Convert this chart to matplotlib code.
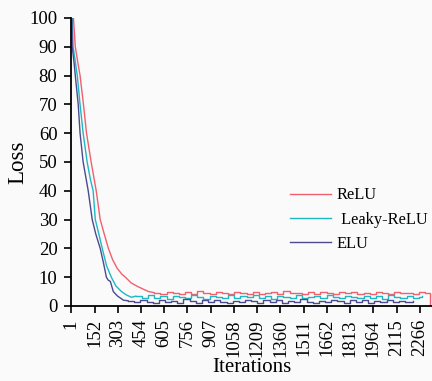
import matplotlib
matplotlib.use("Agg")
import matplotlib.pyplot as plt

plt.rcParams["font.family"] = ["Liberation Serif", "DejaVu Serif"]

# ReLU: fast descent, then noisy plateau
relu_head_x = [1, 15, 27, 42, 58, 80, 100, 130, 163, 189, 215, 242, 270, 300, 330, 352, 390, 430, 470, 503, 540]
relu_head_y = [100, 100, 90, 85, 80, 70, 60, 50, 40, 30, 25, 20, 16, 13, 11, 10, 8, 6.8, 5.8, 5.0, 4.6]
relu_tail_x = list(range(540, 2301, 40)) + [2332, 2345]
relu_tail_y = [4.6, 4.2, 4.9, 4.4, 4.0, 4.7, 4.3, 5.1, 4.5, 4.1, 4.8, 4.4, 4.2, 5.0, 4.6,
               4.3, 4.9, 4.1, 4.5, 4.7, 4.2, 5.2, 4.4, 4.6, 4.0, 4.8, 4.3, 4.9, 4.5, 4.2,
               5.0, 4.4, 4.7, 4.1, 4.6, 4.3, 4.9, 4.5, 4.2, 4.8, 4.4, 4.6, 4.1, 4.7, 4.5,
               0.0, 0.0]

# Leaky-ReLU
leaky_head_x = [1, 7, 13, 40, 58, 78, 104, 125, 143, 157, 180, 202, 230, 261, 290, 327, 360, 392, 420]
leaky_head_y = [100, 100, 90, 80, 70, 60, 50, 44, 40, 30, 25, 20, 14, 10, 7, 5, 3.8, 3.0, 3.4]
leaky_tail_x = list(range(420, 2261, 40)) + [2280]
leaky_tail_y = [3.4, 2.6, 3.8, 2.9, 3.3, 2.4, 3.6, 3.1, 2.7, 3.9, 3.0, 2.5, 3.5, 3.2, 2.8,
                3.7, 2.6, 3.3, 3.0, 3.8, 2.7, 3.4, 2.5, 3.6, 3.1, 2.9, 3.7, 2.6, 3.2, 3.5,
                2.8, 3.9, 3.0, 2.6, 3.4, 3.1, 2.7, 3.6, 2.9, 3.3, 2.5, 3.8, 3.0, 2.7, 3.5,
                2.9, 3.1, 3.6]

# ELU
elu_head_x = [1, 5, 7, 20, 27, 46, 58, 78, 111, 137, 160, 189, 210, 229, 240, 255, 274, 300, 340, 370]
elu_head_y = [100, 100, 90, 84, 80, 70, 60, 50, 40, 30, 25, 20, 15, 10, 9, 8.5, 5, 3.5, 2.0, 1.8]
elu_tail_x = list(range(370, 2201, 40)) + [2221]
elu_tail_y = [1.8, 1.2, 2.2, 1.5, 0.9, 2.0, 1.4, 1.7, 1.0, 2.3, 1.6, 1.1, 1.9, 1.3, 2.1,
              1.5, 0.9, 1.8, 1.2, 2.2, 1.6, 1.0, 1.9, 1.4, 2.0, 1.1, 1.7, 1.3, 2.3, 1.5,
              0.9, 1.8, 1.2, 2.1, 1.6, 1.0, 1.9, 1.4, 2.2, 1.1, 1.7, 1.3, 2.0, 1.5, 1.8,
              1.2, 1.6]

x_ticks = list(range(1, 2267, 151))
y_ticks = list(range(0, 101, 10))

fig = plt.figure(figsize=(4.32, 3.81), dpi=100, facecolor="#fafafa")
ax = fig.add_axes([0.165, 0.197, 0.835, 0.756], facecolor="#fafafa")

series = [
    (relu_head_x, relu_head_y, relu_tail_x, relu_tail_y, "#f0606e", "ReLU"),
    (leaky_head_x, leaky_head_y, leaky_tail_x, leaky_tail_y, "#1fb8c2", " Leaky-ReLU"),
    (elu_head_x, elu_head_y, elu_tail_x, elu_tail_y, "#4b4a8e", "ELU"),
]
for hx, hy, tx, ty, color, label in series:
    ax.plot(hx, hy, color=color, lw=1.0, label=label)
    ax.plot(tx, ty, color=color, lw=1.0, drawstyle="steps-post")

ax.set_xlim(1, 2345)
ax.set_ylim(0, 100)
ax.set_xticks(x_ticks)
ax.set_xticklabels([str(t) for t in x_ticks], rotation=90)
ax.set_yticks(y_ticks)
ax.tick_params(labelsize=13.5, direction="out", length=5, width=1.2)
ax.tick_params(axis="y", pad=5)
ax.tick_params(axis="x", pad=4.5)
for side in ["top", "right"]:
    ax.spines[side].set_visible(False)
for side in ["left", "bottom"]:
    ax.spines[side].set_linewidth(1.3)

ax.set_xlabel("Iterations", fontsize=15, labelpad=1)
ax.set_ylabel("Loss", fontsize=16.5, labelpad=1)
ax.legend(loc="center left", bbox_to_anchor=(0.606, 0.300), frameon=False,
          fontsize=11.8, handlelength=2.5, handletextpad=0.35, labelspacing=0.5,
          borderpad=0, borderaxespad=0)

fig.savefig("out.png", dpi=100, facecolor=fig.get_facecolor())
